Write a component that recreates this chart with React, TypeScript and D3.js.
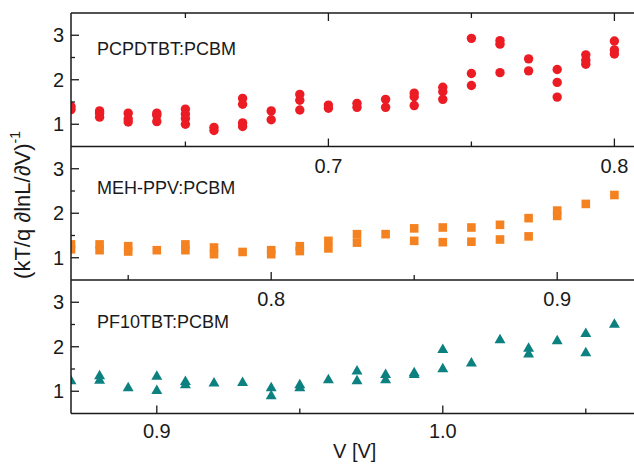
import React from "react";
import * as d3 from "d3";

// ---------- DATA ----------
const panelNames = ["PCPDTBT:PCBM", "MEH-PPV:PCBM", "PF10TBT:PCBM"];

const pcpdtbtV = [0.61, 0.62, 0.63, 0.64, 0.65, 0.66, 0.67, 0.68, 0.69, 0.70, 0.71, 0.72, 0.73, 0.74, 0.75, 0.76, 0.77, 0.78, 0.79, 0.80];
const pcpdtbtY = [
  [1.33, 1.40], [1.30, 1.25, 1.16], [1.25, 1.12, 1.05], [1.25, 1.20, 1.06], [1.34, 1.23, 1.13, 1.0],
  [0.93, 0.86], [1.58, 1.45, 1.03, 0.95], [1.30, 1.10], [1.67, 1.54, 1.32], [1.43, 1.36],
  [1.47, 1.38], [1.56, 1.38], [1.70, 1.62, 1.42], [1.83, 1.73, 1.56], [2.93, 2.14, 1.87],
  [2.88, 2.80, 2.16], [2.47, 2.20], [2.23, 1.94, 1.61], [2.56, 2.44, 2.35], [2.87, 2.67, 2.58],
];

const mehppvV = [0.73, 0.74, 0.75, 0.76, 0.77, 0.78, 0.79, 0.80, 0.81, 0.82, 0.83, 0.84, 0.85, 0.86, 0.87, 0.88, 0.89, 0.90, 0.91, 0.92];
const mehppvY = [
  [1.30, 1.19], [1.30, 1.17], [1.26, 1.14], [1.17], [1.30, 1.17], [1.23, 1.08], [1.13], [1.17, 1.08],
  [1.26, 1.15], [1.38, 1.21], [1.53, 1.34], [1.53], [1.66, 1.38], [1.68, 1.35], [1.68, 1.36],
  [1.74, 1.41], [1.89, 1.48], [2.06, 1.94], [2.21], [2.41],
];

const pf10tbtV = [0.87, 0.88, 0.89, 0.90, 0.91, 0.92, 0.93, 0.94, 0.95, 0.96, 0.97, 0.98, 0.99, 1.00, 1.01, 1.02, 1.03, 1.04, 1.05, 1.06];
const pf10tbtY = [
  [1.23], [1.34, 1.24], [1.07], [1.33, 1.01], [1.21, 1.14], [1.18], [1.19], [1.07, 0.89], [1.14, 1.07],
  [1.25], [1.45, 1.23], [1.37, 1.25], [1.41, 1.37], [1.93, 1.50], [1.63], [2.15], [1.96, 1.83],
  [2.13], [2.29, 1.86], [2.50],
];

const xStarts = [0.61, 0.73, 0.87];
const xMajorTicks = [[0.7, 0.8], [0.8, 0.9], [0.9, 1.0]];
const xMinorTicks = [[0.65, 0.75], [0.75, 0.85], [0.95, 1.05]];
const yMajorTicks = [1, 2, 3];
const yMinorTicks = [1.5, 2.5];
const yDomain = [0.5, 3.5];

// ---------- LAYOUT ----------
const W = 634;
const H = 466;
const left = 71;
const right = 634;
const pxPerVolt = 2860;
const panelTops = [13, 146.5, 280];
const panelH = 133.5;
const labelBaselines = [55, 194, 327.5];
const colors = ["#ec1c24", "#f58220", "#0d8080"];
const FONT = "'Liberation Sans', Arial, sans-serif";
const ink = "#1a1a1a";

const series = [
  { v: pcpdtbtV, y: pcpdtbtY },
  { v: mehppvV, y: mehppvY },
  { v: pf10tbtV, y: pf10tbtY },
];

function Marker({ kind, x, y, color }: { kind: number; x: number; y: number; color: string }) {
  if (kind === 0) return <circle cx={x} cy={y} r={4.7} fill={color} />;
  if (kind === 1) return <rect x={x - 4.3} y={y - 4.3} width={8.6} height={8.6} fill={color} />;
  const path = d3.symbol().type(d3.symbolTriangle).size(52)();
  return <path d={path || ""} transform={`translate(${x},${y})`} fill={color} />;
}

export default function App() {
  const span = (right - left) / pxPerVolt;
  return (
    <div style={{ position: "absolute", left: 0, top: 0 }}>
      <svg width={W} height={H} style={{ display: "block", background: "#fff" }}>
        <defs>
          {panelTops.map((t, i) => (
            <clipPath id={`clip${i}`} key={i}>
              <rect x={left} y={t} width={right - left} height={panelH} />
            </clipPath>
          ))}
        </defs>
        {series.map((s, i) => {
          const top = panelTops[i];
          const x = d3.scaleLinear().domain([xStarts[i], xStarts[i] + span]).range([left, right]);
          const y = d3.scaleLinear().domain(yDomain).range([top + panelH, top]);
          const bottom = top + panelH;
          return (
            <g key={i}>
              <g clipPath={`url(#clip${i})`}>
                {s.v.map((v, j) =>
                  s.y[j].map((val, k) => (
                    <Marker key={`${j}-${k}`} kind={i} x={x(v)} y={y(val)} color={colors[i]} />
                  ))
                )}
              </g>
              {/* panel label */}
              <text x={97} y={labelBaselines[i]} fontFamily={FONT} fontSize={18} fill={ink}>
                {panelNames[i]}
              </text>
              {/* y ticks */}
              {yMajorTicks.map((t) => (
                <g key={`ym${t}`}>
                  <line x1={left} x2={left + 8} y1={y(t)} y2={y(t)} stroke={ink} strokeWidth={1.3} />
                  <text x={64} y={y(t)} dy="0.36em" textAnchor="end" fontFamily={FONT} fontSize={20} fill={ink}>
                    {t}
                  </text>
                </g>
              ))}
              {yMinorTicks.map((t) => (
                <line key={`yn${t}`} x1={left} x2={left + 4} y1={y(t)} y2={y(t)} stroke={ink} strokeWidth={1.3} />
              ))}
              {/* x ticks bottom */}
              {xMajorTicks[i].map((t) => (
                <g key={`xm${t}`}>
                  <line x1={x(t)} x2={x(t)} y1={bottom} y2={bottom - 8} stroke={ink} strokeWidth={1.3} />
                  {i === 0 && (
                    <line x1={x(t)} x2={x(t)} y1={top} y2={top + 8} stroke={ink} strokeWidth={1.3} />
                  )}
                  <text x={x(t)} y={bottom + (i === 2 ? 24 : 26)} textAnchor="middle" fontFamily={FONT} fontSize={20} fill={ink}>
                    {d3.format(".1f")(t)}
                  </text>
                </g>
              ))}
              {xMinorTicks[i].map((t) => (
                <g key={`xn${t}`}>
                  <line x1={x(t)} x2={x(t)} y1={bottom} y2={bottom - 5} stroke={ink} strokeWidth={1.3} />
                  {i === 0 && (
                    <line x1={x(t)} x2={x(t)} y1={top} y2={top + 5} stroke={ink} strokeWidth={1.3} />
                  )}
                </g>
              ))}
              {/* frame lines */}
              {i === 0 && <line x1={left} x2={right} y1={top} y2={top} stroke={ink} strokeWidth={1.5} />}
              <line x1={left} x2={right} y1={bottom} y2={bottom} stroke={ink} strokeWidth={1.5} />
            </g>
          );
        })}
        <line x1={left} x2={left} y1={panelTops[0]} y2={panelTops[2] + panelH} stroke={ink} strokeWidth={1.5} />
        {/* axis titles */}
        <text
          transform={`translate(30,205) rotate(-90)`}
          textAnchor="middle"
          fontFamily={FONT}
          fontSize={22}
          fill={ink}
        >
          (kT/q ∂lnL/∂V)
          <tspan dy="-0.7em" fontSize={14}>-1</tspan>
        </text>
        <text x={333} y={458} fontFamily={FONT} fontSize={20} fill={ink}>
          V [V]
        </text>
      </svg>
    </div>
  );
}
